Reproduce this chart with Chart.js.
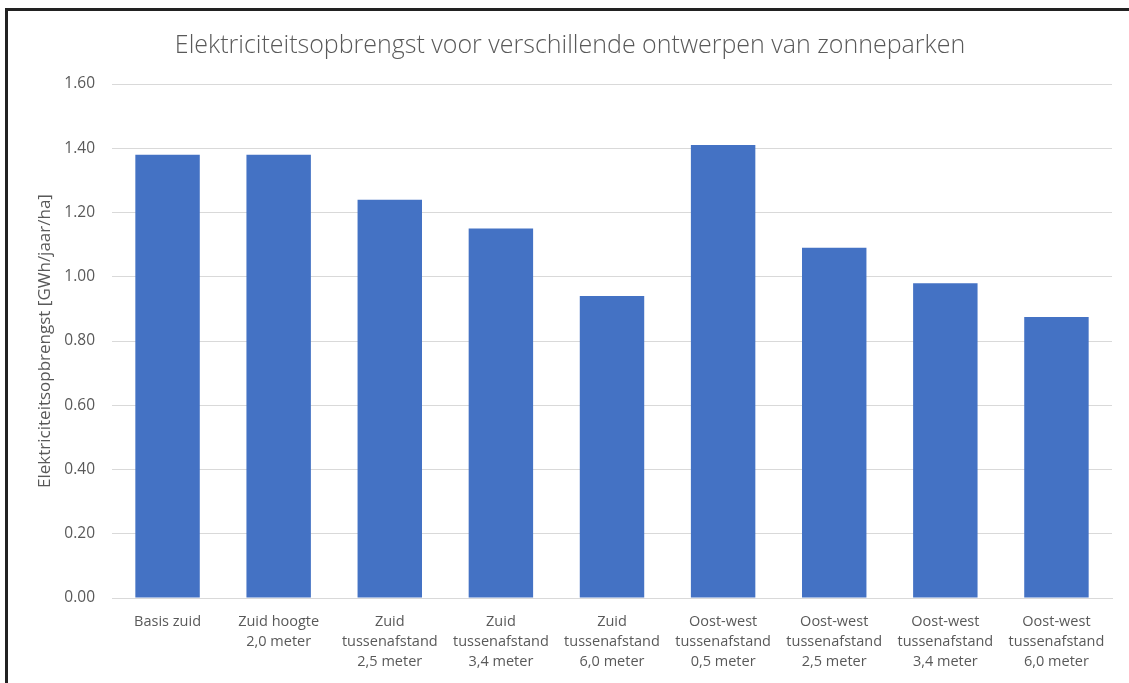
<!DOCTYPE html>
<html>
<head>
<meta charset="utf-8">
<script src="https://cdn.jsdelivr.net/npm/chart.js@4.4.1/dist/chart.umd.min.js"></script>
<style>
  html, body { margin: 0; padding: 0; background: #fff; }
  #wrap { position: relative; width: 1129px; height: 683px; overflow: hidden; }
  #frame {
    position: absolute; left: 5px; top: 8px; right: -10px; bottom: -10px;
    border-left: 3px solid #222; border-top: 3px solid #222;
    pointer-events: none;
  }
</style>
</head>
<body>
<div id="wrap">
  <canvas id="chart" width="1129" height="683"></canvas>
  <div id="frame"></div>
</div>
<script>
// categories (multi-line labels)
const categories = [
  ['Basis zuid'],
  ['Zuid hoogte', '2,0 meter'],
  ['Zuid', 'tussenafstand', '2,5 meter'],
  ['Zuid', 'tussenafstand', '3,4 meter'],
  ['Zuid', 'tussenafstand', '6,0 meter'],
  ['Oost-west', 'tussenafstand', '0,5 meter'],
  ['Oost-west', 'tussenafstand', '2,5 meter'],
  ['Oost-west', 'tussenafstand', '3,4 meter'],
  ['Oost-west', 'tussenafstand', '6,0 meter']
];

// GWh/jaar/ha
const opbrengst = [1.38, 1.38, 1.24, 1.15, 0.94, 1.41, 1.09, 0.98, 0.875];

const yMin = 0;
const yMax = 1.6;
const yStep = 0.2;

const textColor = '#595959';
const fontFamily = "'Open Sans', 'Liberation Sans', sans-serif";

// title sits a bit right of the chart box centre, like the original
const shiftTitle = {
  id: 'shiftTitle',
  afterLayout(chart) {
    if (chart.titleBlock) {
      chart.titleBlock.left += 10;
      chart.titleBlock.right += 10;
    }
  }
};

const ctx = document.getElementById('chart').getContext('2d');

new Chart(ctx, {
  type: 'bar',
  data: {
    labels: categories,
    datasets: [{
      label: 'Elektriciteitsopbrengst',
      data: opbrengst,
      backgroundColor: '#4472c4',
      borderWidth: 0,
      categoryPercentage: 1,
      barPercentage: 0.58
    }]
  },
  options: {
    responsive: false,
    animation: false,
    layout: {
      padding: { left: 8, top: 11, right: 17, bottom: 0 }
    },
    plugins: {
      legend: { display: false },
      tooltip: { enabled: false },
      title: {
        display: true,
        text: 'Elektriciteitsopbrengst voor verschillende ontwerpen van zonneparken',
        color: textColor,
        font: { family: fontFamily, size: 25, weight: '300', lineHeight: 1.2 },
        padding: { top: 20, bottom: 23 }
      }
    },
    scales: {
      x: {
        grid: { display: false, drawTicks: false },
        border: { display: true, color: '#d9d9d9', width: 1 },
        ticks: {
          color: textColor,
          font: { family: fontFamily, size: 14.5, lineHeight: 1.38 },
          padding: 14,
          maxRotation: 0,
          autoSkip: false
        },
        afterFit: scale => { scale.height = 85; }
      },
      y: {
        min: yMin,
        max: yMax,
        grid: { color: '#d9d9d9', drawTicks: false },
        border: { display: false },
        ticks: {
          stepSize: yStep,
          color: textColor,
          font: { family: fontFamily, size: 15.5 },
          padding: 17,
          callback: v => v.toFixed(2)
        },
        title: {
          display: true,
          text: 'Elektriciteitsopbrengst [GWh/jaar/ha]',
          color: textColor,
          font: { family: fontFamily, size: 17, lineHeight: 1.2 },
          padding: { top: 27, bottom: 0 }
        },
        afterFit: scale => { scale.width = 104; }
      }
    }
  },
  plugins: [shiftTitle]
});
</script>
</body>
</html>
